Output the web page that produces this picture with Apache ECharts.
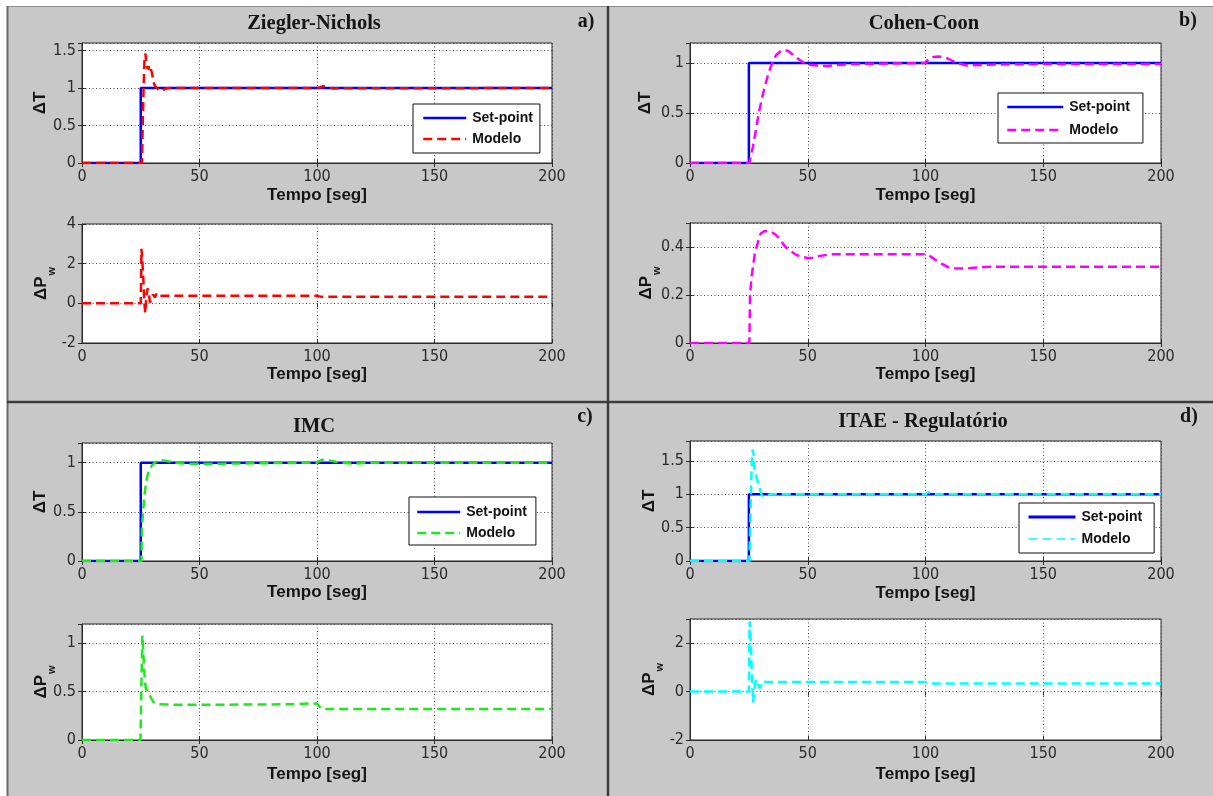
<!DOCTYPE html>
<html>
<head>
<meta charset="utf-8">
<script src="https://cdn.jsdelivr.net/npm/echarts@6/dist/echarts.min.js"></script>
<style>
  html, body { margin: 0; padding: 0; background: #fff; }
  #chart { width: 1213px; height: 796px; }
</style>
</head>
<body>
<div id="chart"></div>
<script>
// ---- Set-point step (same for all four tunings) ----
const setpointTime  = [0, 25, 25, 200];
const setpointValue = [0, 0, 1, 1];

// ---- Ziegler-Nichols ----
const znTempTime   = [0, 25.5, 25.8, 26.2, 26.6, 27.0, 27.4, 27.8, 28.3, 28.8, 29.3, 29.8, 30.4, 31.0, 31.8, 32.8, 34.0, 35.5, 37.0, 100, 101.5, 102.5, 103.5, 105, 107, 200];
const znTempValue  = [0, 0, 0.45, 1.0, 1.38, 1.46, 1.32, 1.26, 1.29, 1.21, 1.25, 1.2, 1.08, 1.03, 1.01, 0.97, 0.96, 0.99, 1.0, 1.0, 1.01, 1.025, 1.02, 1.0, 0.995, 1.0];
const znPowerTime  = [0, 25.0, 25.3, 25.7, 26.1, 26.5, 26.9, 27.4, 27.9, 28.4, 28.9, 29.5, 30.2, 31.0, 31.7, 32.4, 33.2, 34.5, 100, 101, 102.5, 200];
const znPowerValue = [0, 0, 2.75, 2.1, 1.2, 0.1, -0.5, 0.35, 0.75, 0.55, 0.05, 0.2, 0.45, 0.3, 0.48, 0.36, 0.42, 0.38, 0.38, 0.35, 0.33, 0.33];

// ---- Cohen-Coon ----
const ccTempTime   = [0, 25.2, 26.7, 28.0, 29.2, 30.5, 31.7, 33.0, 34.2, 35.5, 36.6, 38.3, 40.0, 41.7, 43.3, 45.0, 46.6, 49.0, 51.5, 54.0, 58.0, 62.0, 70.0, 100, 101.2, 103.3, 105.3, 107.4, 109.4, 111.5, 113.5, 117.7, 122, 130, 150, 200];
const ccTempValue  = [0, 0, 0.16, 0.33, 0.5, 0.64, 0.76, 0.87, 0.96, 1.03, 1.08, 1.115, 1.13, 1.12, 1.09, 1.06, 1.03, 0.99, 0.98, 0.975, 0.97, 0.98, 0.99, 1.0, 1.04, 1.06, 1.065, 1.06, 1.045, 1.02, 1.0, 0.975, 0.98, 0.985, 0.99, 0.99];
const ccPowerTime  = [0, 25.2, 25.5, 26.2, 27.5, 28.8, 30.0, 31.6, 33.3, 35.0, 36.6, 38.3, 40.0, 41.6, 43.3, 45.0, 46.6, 49.9, 52.0, 54.2, 59.8, 70, 100, 102.2, 104.4, 107, 109.4, 112, 114.4, 117, 119.3, 125, 140, 200];
const ccPowerValue = [0, 0, 0.2, 0.28, 0.37, 0.42, 0.456, 0.466, 0.467, 0.46, 0.449, 0.43, 0.407, 0.39, 0.379, 0.368, 0.361, 0.354, 0.355, 0.361, 0.37, 0.37, 0.37, 0.36, 0.345, 0.33, 0.317, 0.311, 0.31, 0.31, 0.312, 0.317, 0.318, 0.318];

// ---- IMC ----
const imcTempTime   = [0, 25.3, 25.5, 26.0, 26.4, 27.0, 27.7, 28.6, 29.7, 31.0, 32.2, 34.0, 35.6, 39.8, 45, 60, 100, 101.2, 102.5, 104, 105.8, 108, 110.8, 116, 122, 200];
const imcTempValue  = [0, 0, 0.35, 0.5, 0.62, 0.75, 0.855, 0.93, 0.97, 1.0, 1.02, 1.025, 1.02, 1.0, 0.99, 0.99, 1.0, 1.02, 1.03, 1.025, 1.02, 1.01, 1.0, 0.99, 1.0, 1.0];
const imcPowerTime  = [0, 24.9, 25.3, 25.7, 26.0, 26.4, 26.8, 27.2, 28.0, 28.9, 29.7, 30.5, 31.7, 33.0, 40, 60, 90, 98, 100, 100.8, 101.7, 103.3, 120, 200];
const imcPowerValue = [0, 0, 0.6, 1.08, 0.95, 0.75, 0.6, 0.53, 0.5, 0.46, 0.42, 0.39, 0.38, 0.37, 0.365, 0.365, 0.37, 0.38, 0.375, 0.35, 0.326, 0.32, 0.32, 0.32];

// ---- ITAE - Regulatório ----
const itaeTempTime   = [0, 25.2, 25.6, 26.0, 26.3, 26.6, 27.0, 27.4, 28.2, 29.0, 29.8, 30.5, 31.2, 32.0, 32.6, 34, 100, 101, 101.6, 102.5, 104, 200];
const itaeTempValue  = [0, 0, 0.6, 1.2, 1.5, 1.67, 1.6, 1.36, 1.26, 1.16, 1.06, 0.98, 0.96, 0.98, 1.0, 1.0, 1.0, 1.03, 1.04, 1.02, 1.0, 1.0];
const itaePowerTime  = [0, 25.0, 25.3, 25.7, 26.0, 26.3, 26.8, 27.3, 28.0, 28.6, 29.5, 30.3, 31.0, 32.0, 34, 100, 101, 103, 200];
const itaePowerValue = [0, 0, 2.9, 2.3, 1.5, 0.6, -0.45, 0.1, 0.5, 0.45, 0.15, 0.25, 0.45, 0.4, 0.4, 0.4, 0.36, 0.33, 0.33];

// ---- Axis ranges [min, max, interval] ----
const timeRange      = [0, 200, 50];
const znTempRange    = [0, 1.6, 0.5];
const znPowerRange   = [-2, 4, 2];
const ccTempRange    = [0, 1.2, 0.5];
const ccPowerRange   = [0, 0.5, 0.2];
const imcTempRange   = [0, 1.2, 0.5];
const imcPowerRange  = [0, 1.2, 0.5];
const itaeTempRange  = [0, 1.8, 0.5];
const itaePowerRange = [-2, 3, 2];

const zip = (t, v) => t.map((x, i) => [x, v[i]]);

const NARROW = '"Liberation Sans Narrow", "Arial Narrow", "DejaVu Sans Condensed", "Liberation Sans", sans-serif';
const SANS = '"Liberation Sans", Arial, sans-serif';
const SERIF = '"Liberation Serif", "Times New Roman", serif';

const panels = [
  { id: 'zn', title: 'Ziegler-Nichols', letter: 'a)', color: '#ff0000',
    temp: zip(znTempTime, znTempValue), power: zip(znPowerTime, znPowerValue),
    tempRange: znTempRange, powerRange: znPowerRange,
    gridT: { left: 82, top: 43, width: 470, height: 120 },
    gridP: { left: 82, top: 224, width: 470, height: 119 },
    titlePos: [314, 13], letterPos: [586, 12], gapT: 24, gapP: 23, yGapT: 33, yGapP: 25,
    legend: { left: 413, top: 104, padding: [7, 7, 7, 9], itemWidth: 43, itemGap: 7, spWidth: 2.5, modWidth: 2.5 } },
  { id: 'cc', title: 'Cohen-Coon', letter: 'b)', color: '#ff00ff',
    temp: zip(ccTempTime, ccTempValue), power: zip(ccPowerTime, ccPowerValue),
    tempRange: ccTempRange, powerRange: ccPowerRange,
    gridT: { left: 690, top: 43, width: 471, height: 120 },
    gridP: { left: 690, top: 223, width: 471, height: 120 },
    titlePos: [924, 13], letterPos: [1188, 11], gapT: 24, gapP: 23, yGapT: 36, yGapP: 28,
    legend: { left: 998, top: 93, padding: [7, 13, 6, 8], itemWidth: 56, itemGap: 9, spWidth: 2.5, modWidth: 2.5 } },
  { id: 'imc', title: 'IMC', letter: 'c)', color: '#1ee81e',
    temp: zip(imcTempTime, imcTempValue), power: zip(imcPowerTime, imcPowerValue),
    tempRange: imcTempRange, powerRange: imcPowerRange,
    gridT: { left: 82, top: 443, width: 470, height: 118 },
    gridP: { left: 82, top: 624, width: 470, height: 116 },
    titlePos: [314, 416], letterPos: [585, 407], gapT: 23, gapP: 26, yGapT: 33, yGapP: 25,
    legend: { left: 409, top: 497, padding: [8, 9, 5, 7], itemWidth: 43, itemGap: 7, spWidth: 2.5, modWidth: 2.5 } },
  { id: 'itae', title: 'ITAE - Regulatório', letter: 'd)', color: '#00ffff',
    temp: zip(itaeTempTime, itaeTempValue), power: zip(itaePowerTime, itaePowerValue),
    tempRange: itaeTempRange, powerRange: itaePowerRange,
    gridT: { left: 690, top: 441, width: 471, height: 120 },
    gridP: { left: 690, top: 619, width: 471, height: 121 },
    titlePos: [923, 411], letterPos: [1189, 407], gapT: 24, gapP: 26, yGapT: 32, yGapP: 25,
    legend: { left: 1019, top: 503, padding: [7, 12, 7, 8], itemWidth: 47, itemGap: 8, spWidth: 3, modWidth: 1.5 } }
];

const grid = [], xAxis = [], yAxis = [], series = [], title = [], legend = [];

function addAxes(rect, range, xGap, yName, yGap) {
  const gi = grid.length;
  grid.push(Object.assign({ show: true, backgroundColor: '#ffffff', borderColor: '#2b2b2b', borderWidth: 1 }, rect));
  const xi = xAxis.length, yi = yAxis.length;
  const steps = (range[1] - range[0]) / range[2];
  const maxOnTick = Math.abs(steps - Math.round(steps)) < 1e-9;
  // main bottom x axis
  xAxis.push({
    type: 'value', gridIndex: gi, min: timeRange[0], max: timeRange[1], interval: timeRange[2],
    name: 'Tempo [seg]', nameLocation: 'middle', nameGap: xGap, nameMoveOverlap: false,
    nameTextStyle: { fontFamily: SANS, fontWeight: 'bold', fontSize: 17, color: '#141414' },
    axisLine: { show: true, onZero: false, lineStyle: { color: '#2b2b2b', width: 1 } },
    axisTick: { show: true, inside: true, length: 4, lineStyle: { color: '#2b2b2b' } },
    axisLabel: { margin: 6, fontFamily: NARROW, fontSize: 16, color: '#2a2a2a' },
    splitLine: { show: true, lineStyle: { color: '#4a4a4a', width: 1, type: [1, 2.5] } }
  });
  // top x axis: only inner tick marks
  xAxis.push({
    type: 'value', gridIndex: gi, position: 'top', min: timeRange[0], max: timeRange[1], interval: timeRange[2],
    axisLine: { show: false }, axisLabel: { show: false }, splitLine: { show: false },
    axisTick: { show: true, inside: true, length: 4, lineStyle: { color: '#2b2b2b' } }
  });
  yAxis.push({
    type: 'value', gridIndex: gi, min: range[0], max: range[1], interval: range[2],
    name: yName, nameLocation: 'middle', nameGap: yGap, nameRotate: 90, nameMoveOverlap: false,
    nameTextStyle: {
      fontFamily: SANS, fontWeight: 'bold', fontSize: 17, color: '#141414',
      rich: {
        t: { fontFamily: SANS, fontWeight: 'bold', fontSize: 17, color: '#141414' },
        b: { fontFamily: SANS, fontWeight: 'bold', fontSize: 17, color: '#141414', verticalAlign: 'bottom', padding: [0, 0, 7, 0] },
        s: { fontFamily: SANS, fontWeight: 'bold', fontSize: 11, color: '#141414', verticalAlign: 'bottom', padding: [0, 0, 0, 1] }
      }
    },
    axisLine: { show: true, onZero: false, lineStyle: { color: '#2b2b2b', width: 1 } },
    axisTick: { show: true, inside: true, length: 4, lineStyle: { color: '#2b2b2b' } },
    axisLabel: { margin: 6, fontFamily: NARROW, fontSize: 16, color: '#2a2a2a', showMaxLabel: maxOnTick },
    splitLine: { show: true, lineStyle: { color: '#4a4a4a', width: 1, type: [1, 2.5] } }
  });
  // right y axis: only inner tick marks
  yAxis.push({
    type: 'value', gridIndex: gi, position: 'right', min: range[0], max: range[1], interval: range[2],
    axisLine: { show: false }, axisLabel: { show: false }, splitLine: { show: false },
    axisTick: { show: true, inside: true, length: 4, lineStyle: { color: '#2b2b2b' } }
  });
  return { xi, yi };
}

panels.forEach(p => {
  const t = addAxes(p.gridT, p.tempRange, p.gapT, '{t|ΔT}', p.yGapT);
  const w = addAxes(p.gridP, p.powerRange, p.gapP, '{b|ΔP}{s|w}', p.yGapP);
  const spName = 'Set-point@' + p.id, modName = 'Modelo@' + p.id;
  series.push({
    type: 'line', name: spName, xAxisIndex: t.xi, yAxisIndex: t.yi,
    data: zip(setpointTime, setpointValue), showSymbol: false, symbol: 'none',
    lineStyle: { color: '#0000ff', width: 2.5 }, itemStyle: { color: '#0000ff' }, z: 2
  });
  series.push({
    type: 'line', name: modName, xAxisIndex: t.xi, yAxisIndex: t.yi,
    data: p.temp, showSymbol: false, symbol: 'none',
    lineStyle: { color: p.color, width: 2.5, type: [9, 5] }, itemStyle: { color: p.color }, z: 3
  });
  series.push({
    type: 'line', name: 'ΔPw@' + p.id, xAxisIndex: w.xi, yAxisIndex: w.yi,
    data: p.power, showSymbol: false, symbol: 'none',
    lineStyle: { color: p.color, width: 2.5, type: [9, 5] }, itemStyle: { color: p.color }, z: 3
  });
  title.push({
    text: p.title, left: p.titlePos[0], top: p.titlePos[1], textAlign: 'center', padding: 0,
    textStyle: { fontFamily: SERIF, fontWeight: 'bold', fontSize: 20.5, color: '#151515' }
  });
  title.push({
    text: p.letter, left: p.letterPos[0], top: p.letterPos[1], textAlign: 'center', padding: 0,
    textStyle: { fontFamily: SERIF, fontWeight: 'bold', fontSize: 20, color: '#151515' }
  });
  legend.push({
    data: [
      { name: spName, lineStyle: { width: p.legend.spWidth } },
      { name: modName, lineStyle: { width: p.legend.modWidth } }
    ],
    orient: 'vertical', left: p.legend.left, top: p.legend.top,
    padding: p.legend.padding, itemWidth: p.legend.itemWidth, itemHeight: 14, itemGap: p.legend.itemGap,
    backgroundColor: '#ffffff', borderColor: '#111111', borderWidth: 1, borderRadius: 0,
    selectedMode: false,
    itemStyle: { opacity: 0 },
    formatter: n => n.split('@')[0],
    textStyle: { fontFamily: SANS, fontWeight: 'bold', fontSize: 14, color: '#111111', padding: [0, 0, 0, 1] }
  });
});

const chart = echarts.init(document.getElementById('chart'), null, { renderer: 'canvas' });
chart.setOption({
  animation: false,
  backgroundColor: '#ffffff',
  title, legend, grid, xAxis, yAxis, series,
  graphic: { elements: [
    { type: 'rect', z: -10, shape: { x: 7, y: 6, width: 1206, height: 790 }, style: { fill: '#c8c8c8' }, silent: true },
    { type: 'line', z: -9, shape: { x1: 7, y1: 6.5, x2: 1213, y2: 6.5 }, style: { stroke: '#8c8c8c', lineWidth: 1 }, silent: true },
    { type: 'line', z: -9, shape: { x1: 7.5, y1: 6, x2: 7.5, y2: 796 }, style: { stroke: '#6a6a6a', lineWidth: 2 }, silent: true },
    { type: 'line', z: -9, shape: { x1: 608, y1: 6, x2: 608, y2: 796 }, style: { stroke: '#3c3c3c', lineWidth: 2.5 }, silent: true },
    { type: 'line', z: -9, shape: { x1: 7, y1: 402, x2: 1213, y2: 402 }, style: { stroke: '#3c3c3c', lineWidth: 2.5 }, silent: true }
  ] }
});
</script>
</body>
</html>
